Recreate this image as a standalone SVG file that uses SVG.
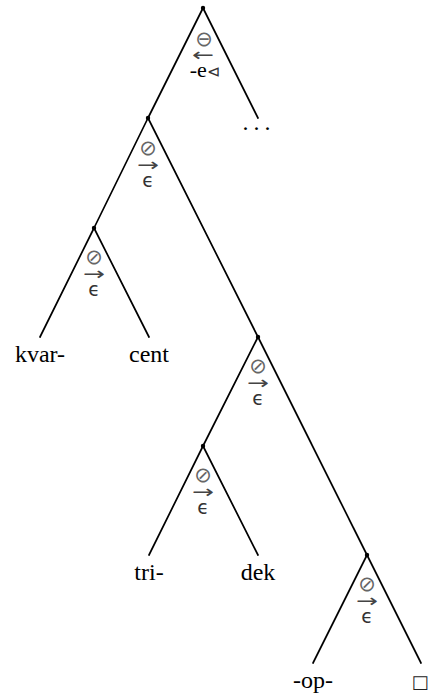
<svg xmlns="http://www.w3.org/2000/svg" width="428" height="697" viewBox="0 0 428 697">
<style>
  .edge { stroke: #000; stroke-width: 1.7; fill: none; stroke-linecap: round; }
  .dot { fill: #000; }
  .leaf { font-family: "Liberation Serif", "DejaVu Serif", serif; font-size: 24px; fill: #000; text-anchor: middle; }
  .sym { font-family: "DejaVu Sans", sans-serif; font-size: 21px; fill: #666; text-anchor: middle; }
  .arr { font-family: "DejaVu Sans", sans-serif; font-size: 18px; fill: #444; text-anchor: middle; }
  .eps { font-family: "DejaVu Sans", sans-serif; font-size: 19px; fill: #333; text-anchor: middle; }
  .lab { font-family: "Liberation Serif", "DejaVu Serif", serif; font-size: 22px; fill: #000; text-anchor: middle; }
</style>
<rect width="428" height="697" fill="#fff"/>
<g id="connectors">
  <line class="edge" x1="203" y1="8" x2="148" y2="118"/>
  <line class="edge" x1="203" y1="8" x2="258" y2="118"/>
  <line class="edge" x1="148" y1="118" x2="94" y2="228"/>
  <line class="edge" x1="148" y1="118" x2="258" y2="337"/>
  <line class="edge" x1="94" y1="228" x2="40" y2="337"/>
  <line class="edge" x1="94" y1="228" x2="149" y2="337"/>
  <line class="edge" x1="258" y1="337" x2="203" y2="446"/>
  <line class="edge" x1="258" y1="337" x2="367" y2="555"/>
  <line class="edge" x1="203" y1="446" x2="149" y2="555"/>
  <line class="edge" x1="203" y1="446" x2="258" y2="555"/>
  <line class="edge" x1="367" y1="555" x2="313" y2="663"/>
  <line class="edge" x1="367" y1="555" x2="421" y2="663"/>
</g>
<g id="n0">
  <circle class="dot" cx="203" cy="8" r="2.2"/>
  <text class="sym" x="204" y="46">⊖</text>
  <text class="arr" x="203" y="61" textLength="22" lengthAdjust="spacingAndGlyphs">←</text>
  <text class="lab" x="205" y="77">-e<tspan font-family="DejaVu Sans, sans-serif" font-size="16" fill="#333">⊲</tspan></text>
</g>
<g id="n_dots">
  <text class="leaf" x="259" y="130" letter-spacing="5">...</text>
</g>
<g id="n1">
  <circle class="dot" cx="148" cy="118" r="2.2"/>
  <text class="sym" x="148" y="155">⊘</text>
  <text class="arr" x="148" y="171" textLength="22" lengthAdjust="spacingAndGlyphs">→</text>
  <text class="eps" x="148" y="187">ϵ</text>
</g>
<g id="n2">
  <circle class="dot" cx="94" cy="228" r="2.2"/>
  <text class="sym" x="94" y="264">⊘</text>
  <text class="arr" x="94" y="280" textLength="22" lengthAdjust="spacingAndGlyphs">→</text>
  <text class="eps" x="94" y="296">ϵ</text>
</g>
<g id="n3">
  <circle class="dot" cx="258" cy="337" r="2.2"/>
  <text class="sym" x="258" y="373">⊘</text>
  <text class="arr" x="258" y="389" textLength="22" lengthAdjust="spacingAndGlyphs">→</text>
  <text class="eps" x="258" y="405">ϵ</text>
</g>
<g id="n4">
  <circle class="dot" cx="203" cy="446" r="2.2"/>
  <text class="sym" x="203" y="482">⊘</text>
  <text class="arr" x="203" y="498" textLength="22" lengthAdjust="spacingAndGlyphs">→</text>
  <text class="eps" x="203" y="514">ϵ</text>
</g>
<g id="n5">
  <circle class="dot" cx="367" cy="555" r="2.2"/>
  <text class="sym" x="367" y="591">⊘</text>
  <text class="arr" x="367" y="607" textLength="22" lengthAdjust="spacingAndGlyphs">→</text>
  <text class="eps" x="367" y="623">ϵ</text>
</g>
<g id="leaf_kvar"><text class="leaf" x="40" y="362">kvar-</text></g>
<g id="leaf_cent"><text class="leaf" x="149" y="362">cent</text></g>
<g id="leaf_tri"><text class="leaf" x="149" y="580">tri-</text></g>
<g id="leaf_dek"><text class="leaf" x="258" y="580">dek</text></g>
<g id="leaf_op"><text class="leaf" x="313" y="688">-op-</text></g>
<g id="leaf_box"><text x="420" y="688" font-family="DejaVu Sans, sans-serif" font-size="18" fill="#222" text-anchor="middle">□</text></g>
</svg>
